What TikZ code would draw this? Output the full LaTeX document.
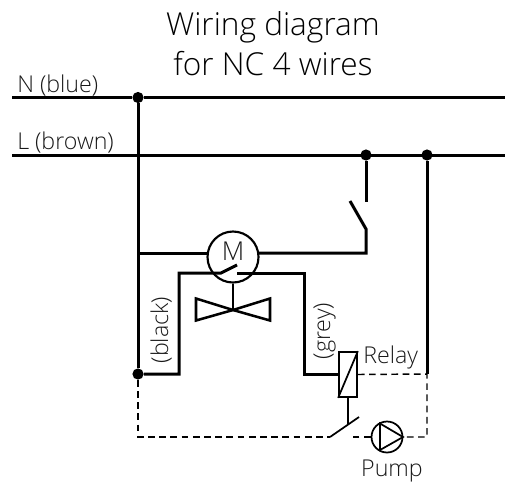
\documentclass[tikz,border=0pt]{standalone}
\usepackage{fontspec}
\setmainfont{Open Sans Light}
\tikzset{
  wire/.style={line width=2.25pt,line join=miter},
  thin wire/.style={line width=1.3pt},
  dash wire/.style={line width=1.1pt,dash pattern=on 5pt off 3.4pt},
  junction/.style={circle,fill=black,inner sep=0pt,minimum size=8.4pt},
  lab/.style={inner sep=0pt,text=black!90,font=\fontsize{17.4pt}{20pt}\selectfont},
  ttl/.style={inner sep=0pt,text=black,font=\fontsize{23.7pt}{30pt}\selectfont,align=center}
}
\begin{document}
\begin{tikzpicture}[x=0.75pt,y=-0.75pt]
\useasboundingbox (0,0) rectangle (505,482);
% coordinates
\coordinate (nl) at (12,97.5); \coordinate (nr) at (505,97.5);
\coordinate (ll) at (12,155); \coordinate (lr) at (505,155);
\node[junction] (jn) at (138,97.5) {};
\node[junction] (jl1) at (366,155) {};
\node[junction] (jl2) at (427,155) {};
\node[junction] (jb) at (138,374) {};
\node[circle,draw,line width=1.6pt,minimum size=51pt*0.75,inner sep=0pt] (motor) at (233,257) {};
\node[inner sep=0pt,text=black!90,font=\fontsize{19.5pt}{22pt}\selectfont] (mlab) at (233,251) {M};
% mains
\draw[wire] (nl) -- (jn) -- (nr);
\draw[wire] (ll) -- (lr);
\draw[wire] (jn) -- (jb);
\draw[wire] (jl2) -- (427,374);
% motor feed with switch
\draw[wire] (138,253) -- (207.8,253);
\draw[wire] (258.2,253) -- (366,253) -- (366,229) -- (350,201);
\draw[wire] (jl1) -- (366,201.5);
% inner actuator wires
\draw[wire,line cap=butt] (jb) -- (179,374) -- (179,273) -- (221,273) -- (237,265);
\draw[wire] (237,273) -- (304,273) -- (304,374) -- (339,374);
% valve
\draw[wire,line width=1.9pt] (motor.south) -- (233,310);
\draw[wire,line width=1.9pt] (233,310) -- (196,298.5) -- (196,320.5) -- cycle;
\draw[wire,line width=1.9pt] (233,310) -- (270,298.5) -- (270,320.5) -- cycle;
% relay
\node[draw,line width=1.3pt,minimum width=18pt*0.75,minimum height=45pt*0.75,inner sep=0pt] (relay) at (348,374.5) {};
\draw[thin wire] (relay.south west) -- (relay.north east);
\draw[thin wire] (relay.south) -- (348,424);
\coordinate (swa) at (330,437); \coordinate (swb) at (359,417);
\draw[thin wire] (swa) -- (swb);
% pump
\node[circle,draw,line width=1.3pt,minimum size=31pt*0.75,inner sep=0pt] (pump) at (387,437) {};
\draw[thin wire,line join=miter] (380,423.5) -- (403,437) -- (380,450) -- cycle;
% dashed
\draw[dash wire] (jb) -- (138,437) -- (swa);
\draw[dash wire] (relay.east) -- (427,374) -- (427,437) -- (pump.east);
\draw[dash wire] (pump.west) -- (353,437);
% text
\node[ttl,anchor=center] (title) at (273,43.5) {Wiring diagram\\for NC 4 wires};
\node[lab,anchor=base west] (tn) at (17,92) {N (blue)};
\node[lab,anchor=base west] (tl) at (17,149) {L (brown)};
\node[lab,anchor=base,rotate=90] (tblack) at (168,330) {(black)};
\node[lab,anchor=base,rotate=90] (tgrey) at (330,331) {(grey)};
\node[lab,anchor=base west] (trelay) at (363,363) {Relay};
\node[lab,anchor=base] (tpump) at (392,476) {Pump};
\end{tikzpicture}
\end{document}
